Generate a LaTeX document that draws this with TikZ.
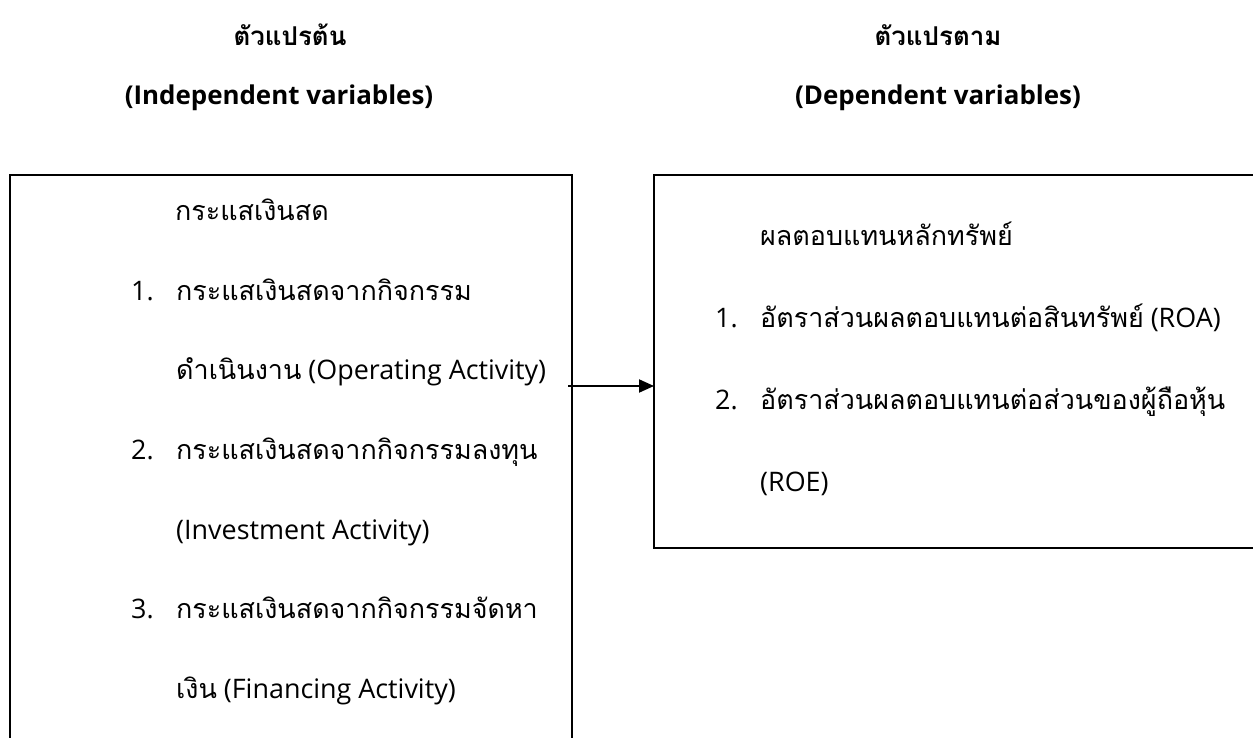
\documentclass[tikz,border=0pt]{standalone}
\usepackage{fontspec}
\setmainfont{Open Sans}
\newfontfamily\thfont[Script=Thai]{Loma}
\usetikzlibrary{arrows.meta}
\begin{document}
\begin{tikzpicture}[x=1bp,y=-1bp,
  txt/.style={anchor=base west,inner sep=0pt,font=\fontsize{27}{32}\selectfont},
  head/.style={anchor=base,inner sep=0pt,font=\fontsize{26}{32}\selectfont\bfseries},
  box/.style={draw,line width=2.4bp,inner sep=0pt,outer sep=0pt,anchor=north west},
  conn/.style={line width=2bp,-{Triangle[length=15bp,width=13bp]}}]
\useasboundingbox (0,0) rectangle (1253,738);
\clip (0,0) rectangle (1253,738);
% headers
\node[head] (h1) at (290,46) {\thfont ตัวแปรต้น};
\node[head] (h2) at (279,105) {(Independent variables)};
\node[head] (h3) at (938,46) {\thfont ตัวแปรตาม};
\node[head] (h4) at (938,105) {(Dependent variables)};
% boxes
\node[box,minimum width=562bp,minimum height=600bp] (L) at (10,175) {};
\node[box,minimum width=620bp,minimum height=373bp] (R) at (654,175) {};
% left texts
\node[txt] (l0) at (175,220) {\thfont กระแสเงินสด};
\node[txt] (n1) at (131,300) {1.};
\node[txt] (l1) at (176,300) {\thfont กระแสเงินสดจากกิจกรรม};
\node[txt] (l2) at (176,379) {{\thfont ดำเนินงาน} (Operating Activity)};
\node[txt] (n2) at (131,459) {2.};
\node[txt] (l3) at (176,459) {\thfont กระแสเงินสดจากกิจกรรมลงทุน};
\node[txt] (l4) at (176,539) {(Investment Activity)};
\node[txt] (n3) at (131,618) {3.};
\node[txt] (l5) at (176,618) {\thfont กระแสเงินสดจากกิจกรรมจัดหา};
\node[txt] (l6) at (176,698) {{\thfont เงิน} (Financing Activity)};
% right texts
\node[txt] (r0) at (760,245) {\thfont ผลตอบแทนหลักทรัพย์};
\node[txt] (m1) at (715,327) {1.};
\node[txt] (r1) at (760,327) {{\thfont อัตราส่วนผลตอบแทนต่อสินทรัพย์} (ROA)};
\node[txt] (m2) at (715,409) {2.};
\node[txt] (r2) at (760,409) {\thfont อัตราส่วนผลตอบแทนต่อส่วนของผู้ถือหุ้น};
\node[txt] (r3) at (760,491) {(ROE)};
% connector
\coordinate (ay) at (0,386);
\draw[conn] ([xshift=-4bp]L.east |- ay) -- (R.west |- ay);
\end{tikzpicture}
\end{document}
